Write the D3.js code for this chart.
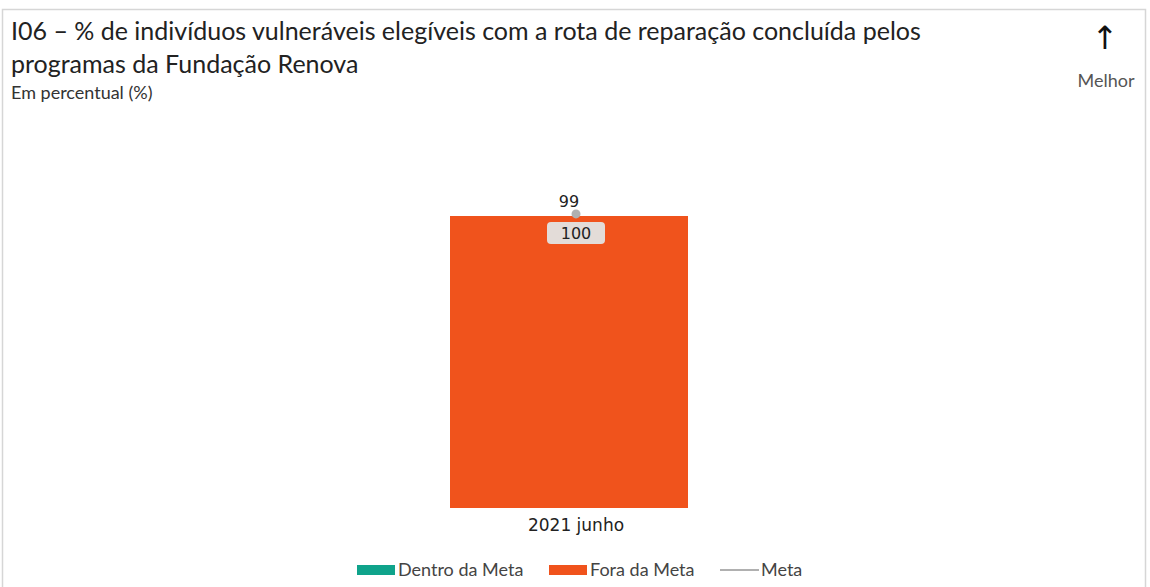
<!DOCTYPE html>
<html>
<head>
<meta charset="utf-8">
<script src="https://cdn.jsdelivr.net/npm/d3@7"></script>
<style>
	body { margin: 0; background: #fff; }
	svg { display: block; }
</style>
</head>
<body>
<svg id="chart" width="1150" height="587"></svg>
<script>
(function() {

// DATA
	var periods = ["2021 junho"];
	var values = [100];
	var metas = [99];
	var status = ["fora"];  // dentro / fora
	var legendKeys = ["Dentro da Meta", "Fora da Meta", "Meta"];

	var colors = { dentro: "#0fa38b", fora: "#f0531c", meta: "#b0b0b0" };

	var svg = d3.select('#chart');

	// frame
	svg.append('rect')
		.attr('x', 2.5).attr('y', 9.5)
		.attr('width', 1143).attr('height', 600)
		.attr('fill', 'none')
		.attr('stroke', '#d6d6d6')
		.attr('stroke-width', 1.5);

	// titles
	var titleFont = "Lato, 'Open Sans', sans-serif";
	var title = svg.append('text')
		.style('font-family', titleFont)
		.style('font-size', '25px')
		.style('fill', '#222');
	title.append('tspan').attr('x', 11).attr('y', 40)
		.text('I06 – % de indivíduos vulneráveis elegíveis com a rota de reparação concluída pelos');
	title.append('tspan').attr('x', 11).attr('y', 73)
		.text('programas da Fundação Renova');

	svg.append('text')
		.attr('x', 11).attr('y', 99)
		.style('font-family', titleFont)
		.style('font-size', '18px')
		.style('fill', '#333')
		.text('Em percentual (%)');

	// better arrow
	svg.append('text')
		.attr('x', 1105).attr('y', 49)
		.attr('text-anchor', 'middle')
		.style('font-family', "'DejaVu Sans', sans-serif")
		.style('font-size', '32px')
		.style('fill', '#111')
		.text('↑');
	svg.append('text')
		.attr('x', 1106).attr('y', 87)
		.attr('text-anchor', 'middle')
		.style('font-family', titleFont)
		.style('font-size', '18px')
		.style('fill', '#555')
		.text('Melhor');

	// scales
	var x = d3.scaleBand()
		.domain(periods)
		.range([450, 688])
		.padding(0);
	var y = d3.scaleLinear()
		.domain([0, 100])
		.range([508, 216]);

	var labelFont = "'DejaVu Sans', Verdana, sans-serif";
	var shift = 7;  // labels sit a little right of bar centre in the original

	var g = svg.append('g');

	g.selectAll('.bar')
		.data(values)
		.enter().append('rect')
		.attr('class', 'bar')
		.attr('x', function(d, i) { return x(periods[i]); })
		.attr('width', x.bandwidth())
		.attr('y', function(d) { return y(d); })
		.attr('height', function(d) { return y(0) - y(d); })
		.attr('fill', function(d, i) { return colors[status[i]]; });

	// value labels in boxes
	values.forEach(function(v, i) {
		var cx = x(periods[i]) + x.bandwidth() / 2 + shift;
		g.append('rect')
			.attr('x', cx - 29).attr('y', y(v) + 6)
			.attr('width', 58).attr('height', 22)
			.attr('rx', 4)
			.attr('fill', '#e3dcd8');
		g.append('text')
			.attr('x', cx).attr('y', y(v) + 23)
			.attr('text-anchor', 'middle')
			.style('font-family', labelFont)
			.style('font-size', '16px')
			.style('fill', '#222')
			.text(v);
	});

	// meta points (marker drawn on the bar's top edge as in the original)
	metas.forEach(function(m, i) {
		var cx = x(periods[i]) + x.bandwidth() / 2;
		var cy = y(m) - 5;
		g.append('circle')
			.attr('cx', cx + shift).attr('cy', cy)
			.attr('r', 4.5)
			.attr('fill', colors.meta);
		g.append('text')
			.attr('x', cx).attr('y', cy - 7)
			.attr('text-anchor', 'middle')
			.style('font-family', labelFont)
			.style('font-size', '16px')
			.style('fill', '#222')
			.text(m);
	});

	// x axis labels
	g.selectAll('.xlab')
		.data(periods)
		.enter().append('text')
		.attr('class', 'xlab')
		.attr('x', function(d) { return x(d) + x.bandwidth() / 2 + shift; })
		.attr('y', 531)
		.attr('text-anchor', 'middle')
		.style('font-family', labelFont)
		.style('font-size', '17px')
		.style('fill', '#222')
		.text(function(d) { return d; });

	// legend
	var legendX = [357, 549, 720];
	var leg = svg.append('g');
	legendKeys.forEach(function(k, i) {
		var lx = legendX[i];
		if (k == "Meta") {
			leg.append('line')
				.attr('x1', lx).attr('x2', lx + 39)
				.attr('y1', 570).attr('y2', 570)
				.attr('stroke', colors.meta)
				.attr('stroke-width', 2);
		} else {
			leg.append('rect')
				.attr('x', lx).attr('y', 565)
				.attr('width', 38).attr('height', 10)
				.attr('fill', i == 0 ? colors.dentro : colors.fora);
		}
		leg.append('text')
			.attr('x', lx + (k == "Meta" ? 41 : 41)).attr('y', 576)
			.style('font-family', titleFont)
			.style('font-size', '18px')
			.style('fill', '#444')
			.text(k);
	});

})()
</script>
</body>
</html>
